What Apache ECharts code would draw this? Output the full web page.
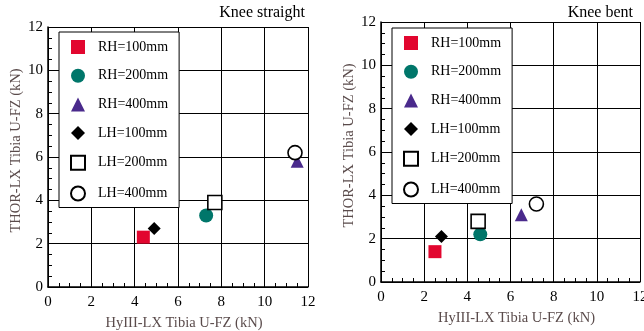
<!DOCTYPE html>
<html>
<head>
<meta charset="utf-8">
<script src="https://cdn.jsdelivr.net/npm/echarts@6/dist/echarts.min.js"></script>
<style>
  html, body { margin: 0; padding: 0; background: #fff; }
  #chart { width: 644px; height: 331px; }
</style>
</head>
<body>
<div id="chart"></div>
<script>
// series names (legend order)
const seriesNames = ["RH=100mm", "RH=200mm", "RH=400mm", "LH=100mm", "LH=200mm", "LH=400mm"];
// panel titles
const panelTitles = ["Knee straight", "Knee bent"];
// [HyIII, THOR] per series, knee straight
const straightRH100 = [[4.4, 2.3]];
const straightRH200 = [[7.3, 3.3]];
const straightRH400 = [[11.5, 5.8]];
const straightLH100 = [[4.9, 2.7]];
const straightLH200 = [[7.7, 3.9]];
const straightLH400 = [[11.4, 6.2]];
// knee bent
const bentRH100 = [[2.5, 1.4]];
const bentRH200 = [[4.6, 2.2]];
const bentRH400 = [[6.5, 3.1]];
const bentLH100 = [[2.8, 2.1]];
const bentLH200 = [[4.5, 2.8]];
const bentLH400 = [[7.2, 3.6]];

const font = "Liberation Serif";
const nameColor = "#5a4b4b";

const styles = [
  { symbol: "rect", symbolSize: 13, itemStyle: { color: "#e2062f", opacity: 1 } },
  { symbol: "circle", symbolSize: 14, itemStyle: { color: "#00766a", opacity: 1 } },
  { symbol: "triangle", symbolSize: 13, itemStyle: { color: "#4a2a8c", opacity: 1 } },
  { symbol: "diamond", symbolSize: 13, itemStyle: { color: "#000", opacity: 1 } },
  { symbol: "rect", symbolSize: 14, itemStyle: { color: "#fff", borderColor: "#000", borderWidth: 1.6, opacity: 1 } },
  { symbol: "circle", symbolSize: 14, itemStyle: { color: "#fff", borderColor: "#000", borderWidth: 1.6, opacity: 1 } }
];

const panelData = [
  [straightRH100, straightRH200, straightRH400, straightLH100, straightLH200, straightLH400],
  [bentRH100, bentRH200, bentRH400, bentLH100, bentLH200, bentLH400]
];

function xAxis(i) {
  return {
    gridIndex: i, type: "value", min: 0, max: 12, interval: 2,
    name: "HyIII-LX Tibia U-FZ (kN)", nameLocation: "middle", nameGap: 29,
    nameTextStyle: { fontFamily: font, fontSize: 14.5, color: nameColor, padding: [0, 0, 0, 12] },
    axisLine: { lineStyle: { color: "#000", width: 1.5 } },
    axisTick: { show: true, inside: true, length: 5, lineStyle: { color: "#000" } },
    minorTick: { show: true, splitNumber: 4, length: 4, lineStyle: { color: "#000" } },
    axisLabel: { fontFamily: font, fontSize: 15, color: "#000", margin: 8 },
    splitLine: { lineStyle: { color: "#000", width: 1 } }
  };
}
function yAxis(i) {
  return {
    gridIndex: i, type: "value", min: 0, max: 12, interval: 2,
    name: "THOR-LX Tibia U-FZ (kN)", nameLocation: "middle", nameGap: 24,
    nameTextStyle: { fontFamily: font, fontSize: 14.5, color: nameColor, padding: [0, 0, 0, 13] },
    axisLine: { show: true, lineStyle: { color: "#000", width: 1.5 } },
    axisTick: { show: true, inside: true, length: 5, lineStyle: { color: "#000" } },
    minorTick: { show: true, splitNumber: 4, length: 4, lineStyle: { color: "#000" } },
    axisLabel: { fontFamily: font, fontSize: 15, color: "#000", margin: 5 },
    splitLine: { lineStyle: { color: "#000", width: 1 } }
  };
}
function legend(left, top) {
  return {
    left: left, top: top, orient: "vertical",
    data: seriesNames,
    itemWidth: 14, itemHeight: 14, itemGap: 14.7,
    padding: [8, 11, 6, 11],
    backgroundColor: "#fff", borderColor: "#000", borderWidth: 1,
    selectedMode: false,
    textStyle: { fontFamily: font, fontSize: 14, color: "#000", padding: [0, 0, 0, 8] }
  };
}

const series = [];
panelData.forEach((arrs, p) => {
  arrs.forEach((d, k) => {
    series.push(Object.assign({
      name: seriesNames[k], type: "scatter",
      xAxisIndex: p, yAxisIndex: p, data: d, z: 3
    }, styles[k]));
  });
});

const titleStyle = { fontFamily: font, fontSize: 16, fontWeight: "normal", color: "#000" };
const option = {
  animation: false,
  title: [
    { text: panelTitles[0], right: 339, top: 5, padding: 0, textStyle: titleStyle },
    { text: panelTitles[1], right: 11, top: 5, padding: 0, textStyle: titleStyle }
  ],
  grid: [
    { left: 48, right: 336, top: 27, bottom: 44, outerBoundsMode: "none" },
    { left: 381, right: 4, top: 22, bottom: 49, outerBoundsMode: "none" }
  ],
  xAxis: [xAxis(0), xAxis(1)],
  yAxis: [yAxis(0), yAxis(1)],
  legend: [legend(59, 32), legend(392, 28)],
  series: series
};

const chart = echarts.init(document.getElementById("chart"));
chart.setOption(option);
</script>
</body>
</html>
